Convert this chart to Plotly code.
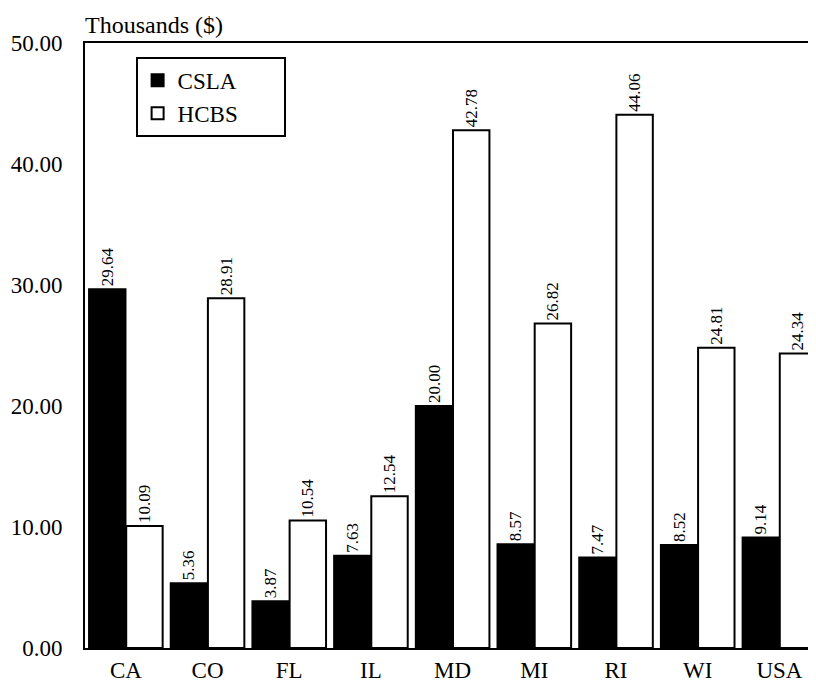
import plotly.graph_objects as go

# states and average cost per person (thousands of $)
states = ["CA", "CO", "FL", "IL", "MD", "MI", "RI", "WI", "USA"]
csla = [29.64, 5.36, 3.87, 7.63, 20.00, 8.57, 7.47, 8.52, 9.14]
hcbs = [10.09, 28.91, 10.54, 12.54, 42.78, 26.82, 44.06, 24.81, 24.34]
yticks = [0, 10, 20, 30, 40, 50]

FONT = "Liberation Serif"
PAD = "\u00a0" * 7  # widens the legend box like the original

fig = go.Figure()
fig.add_trace(go.Bar(x=states, y=csla, name="CSLA" + PAD,
                     marker=dict(color="black", line=dict(color="black", width=2)),
                     texttemplate="%{y:.2f}", textposition="outside", textangle=-90,
                     textfont=dict(family=FONT, size=17, color="black"),
                     constraintext="none", cliponaxis=False))
fig.add_trace(go.Bar(x=states, y=hcbs, name="HCBS" + PAD,
                     marker=dict(color="white", line=dict(color="black", width=2)),
                     texttemplate="%{y:.2f}", textposition="outside", textangle=-90,
                     textfont=dict(family=FONT, size=17, color="black"),
                     constraintext="none", cliponaxis=False))

fig.update_xaxes(range=[-0.5, 8.35], showline=True, linecolor="black", linewidth=2,
                 mirror=True, ticks="", showgrid=False,
                 tickfont=dict(family=FONT, size=23, color="black"))
fig.update_yaxes(range=[0, 50], tickvals=yticks,
                 ticktext=["%.2f" % v for v in yticks],
                 showline=True, linecolor="black", linewidth=2, ticks="",
                 showgrid=False, zeroline=False, ticklabelstandoff=16,
                 tickfont=dict(family=FONT, size=23, color="black"))

fig.add_annotation(text="Thousands ($)", xref="paper", yref="paper",
                   x=0, y=1, xanchor="left", yanchor="middle", yshift=18, xshift=-2,
                   showarrow=False, font=dict(family=FONT, size=24, color="black"))

# page body adds an 8px margin, so the figure is sized to fit inside it
fig.update_layout(width=800, height=675,
                  margin=dict(l=77, r=0, t=35, b=27),
                  paper_bgcolor="white", plot_bgcolor="white",
                  barmode="group", bargap=0.09, bargroupgap=0.02,
                  font=dict(family=FONT, color="black"),
                  legend=dict(x=0.07, y=0.977, xanchor="left", yanchor="top",
                              bordercolor="black", borderwidth=2, bgcolor="white",
                              font=dict(family=FONT, size=23, color="black"),
                              itemwidth=30))

fig.write_html("out.html")
